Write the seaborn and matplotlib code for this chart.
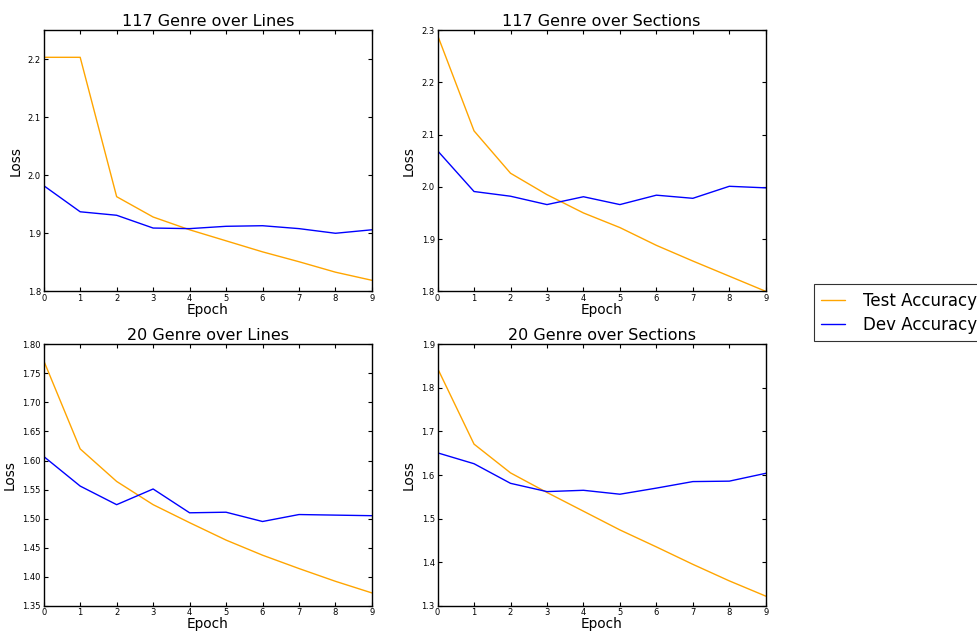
import pandas as pd
import matplotlib
matplotlib.use("Agg")
import matplotlib.pyplot as plt
import matplotlib.ticker as mticker
import seaborn as sns

epochs = list(range(10))

titles = ["117 Genre over Lines", "117 Genre over Sections",
          "20 Genre over Lines", "20 Genre over Sections"]

test_117_lines = [2.203, 2.203, 1.963, 1.928, 1.906, 1.887, 1.868, 1.851, 1.833, 1.819]
dev_117_lines = [1.982, 1.937, 1.931, 1.909, 1.908, 1.912, 1.913, 1.908, 1.900, 1.906]

test_117_sections = [2.290, 2.107, 2.026, 1.985, 1.950, 1.922, 1.888, 1.858, 1.829, 1.800]
dev_117_sections = [2.069, 1.991, 1.982, 1.966, 1.981, 1.966, 1.984, 1.978, 2.001, 1.998]

test_20_lines = [1.772, 1.620, 1.564, 1.524, 1.493, 1.463, 1.437, 1.414, 1.392, 1.372]
dev_20_lines = [1.607, 1.556, 1.524, 1.551, 1.510, 1.511, 1.495, 1.507, 1.506, 1.505]

test_20_sections = [1.845, 1.671, 1.605, 1.560, 1.517, 1.474, 1.435, 1.395, 1.357, 1.322]
dev_20_sections = [1.651, 1.626, 1.581, 1.562, 1.565, 1.556, 1.570, 1.585, 1.586, 1.604]

test_series = [test_117_lines, test_117_sections, test_20_lines, test_20_sections]
dev_series = [dev_117_lines, dev_117_sections, dev_20_lines, dev_20_sections]
ylims = [(1.8, 2.25), (1.8, 2.3), (1.35, 1.80), (1.3, 1.9)]
ysteps = [0.1, 0.1, 0.05, 0.1]
yfmts = ["%.1f", "%.1f", "%.2f", "%.1f"]

sns.set_style("white", {
    "axes.edgecolor": "black",
    "axes.labelcolor": "black",
    "text.color": "black",
    "xtick.color": "black",
    "ytick.color": "black",
    "xtick.direction": "in",
    "ytick.direction": "in",
    "xtick.top": True,
    "ytick.right": True,
    "xtick.bottom": True,
    "ytick.left": True,
})
plt.rcParams["font.family"] = ["DejaVu Sans"]
plt.rcParams["xtick.major.size"] = 3
plt.rcParams["ytick.major.size"] = 3

palette = {"Test Accuracy": "orange", "Dev Accuracy": "blue"}

fig, axes = plt.subplots(2, 2, figsize=(9.78, 6.32), dpi=100)
fig.subplots_adjust(left=0.0447, right=0.783, top=0.9525, bottom=0.0416,
                    wspace=0.2, hspace=0.203)

for ax, title, test, dev, yl, st, fmt in zip(axes.flat, titles, test_series, dev_series,
                                             ylims, ysteps, yfmts):
    df = pd.DataFrame({
        "Epoch": epochs + epochs,
        "Loss": test + dev,
        "Series": ["Test Accuracy"] * 10 + ["Dev Accuracy"] * 10,
    })
    sns.lineplot(data=df, x="Epoch", y="Loss", hue="Series", palette=palette,
                 linewidth=1, ax=ax, legend=True)
    ax.set_xlim(0, 9)
    ax.set_xticks(epochs)
    ax.yaxis.set_major_locator(mticker.MultipleLocator(st))
    ax.yaxis.set_major_formatter(mticker.FormatStrFormatter(fmt))
    ax.set_ylim(*yl)
    ax.set_title(title, fontsize=11.5, pad=3)
    ax.set_xlabel("Epoch", fontsize=9.8, labelpad=0)
    ax.set_ylabel("Loss", fontsize=9.8, labelpad=4)
    ax.tick_params(labelsize=6, pad=2, color="black", width=0.8)
    for s in ax.spines.values():
        s.set_linewidth(1)
        s.set_color("black")

handles, labels = axes[0, 0].get_legend_handles_labels()
for ax in axes.flat:
    ax.get_legend().remove()

leg = fig.legend(handles, labels, loc="center left", bbox_to_anchor=(0.832, 0.505),
                 fontsize=12, frameon=True, fancybox=False, handlelength=1.4,
                 handletextpad=1.1, borderpad=0.45, labelspacing=0.35,
                 borderaxespad=0)
leg.get_frame().set_edgecolor("black")
leg.get_frame().set_linewidth(0.8)

fig.savefig("out.png", dpi=100)
